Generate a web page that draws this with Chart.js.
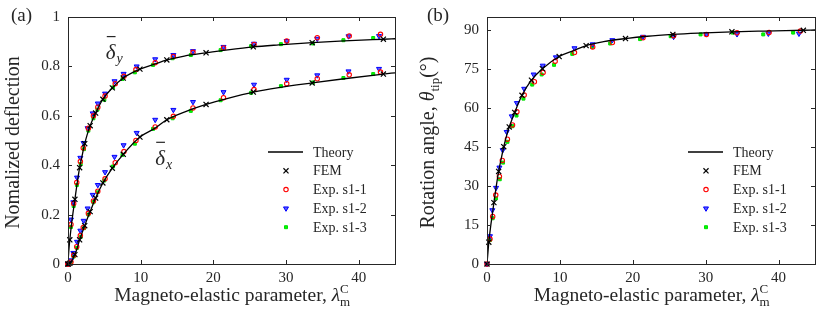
<!DOCTYPE html>
<html>
<head>
<meta charset="utf-8">
<script src="https://cdn.jsdelivr.net/npm/chart.js@4.4.0/dist/chart.umd.min.js"></script>
<style>
  html, body { margin: 0; padding: 0; background: #fff; }
  #wrap { position: relative; width: 831px; height: 314px; }
  .box { position: absolute; top: 0; height: 314px; }
  #boxA { left: 0; width: 415px; }
  #boxB { left: 415px; width: 416px; }
</style>
</head>
<body>
<div id="wrap">
  <div class="box" id="boxA"><canvas id="chartA"></canvas></div>
  <div class="box" id="boxB"><canvas id="chartB"></canvas></div>
</div>
<script>
// TICKS
const xTicks = [0, 10, 20, 30, 40];
const defTicks = [0, 0.2, 0.4, 0.6, 0.8, 1];
const angTicks = [0, 15, 30, 45, 60, 75, 90];

// THEORY
const theoryLam = [0, 0.05, 0.1, 0.25, 0.5, 0.7, 0.95, 1.25, 1.6, 1.95, 2.3, 2.65, 3.05, 3.8, 4.8, 6.1, 7.6, 9.9, 12, 13.6, 16, 19, 22, 25.5, 29, 33.6, 38, 43.4, 45];
const theoryDy = [0, 0.028, 0.05, 0.098, 0.165, 0.21, 0.262, 0.325, 0.39, 0.44, 0.487, 0.525, 0.56, 0.611, 0.667, 0.713, 0.753, 0.789, 0.81, 0.826, 0.842, 0.855, 0.867, 0.879, 0.887, 0.896, 0.903, 0.910, 0.912];
const theoryDx = [0, 0.0005, 0.001, 0.003, 0.012, 0.022, 0.038, 0.063, 0.098, 0.127, 0.155, 0.183, 0.212, 0.267, 0.328, 0.388, 0.444, 0.514, 0.55, 0.584, 0.615, 0.646, 0.671, 0.696, 0.714, 0.733, 0.750, 0.769, 0.774];
const theoryAng = [0, 1.8, 3.5, 8.4, 14.5, 18.5, 23.6, 29.5, 35.6, 40.5, 45.1, 49, 52.7, 58.3, 64.9, 70.7, 75.1, 79.8, 82.2, 84.0, 85.5, 86.7, 87.6, 88.3, 88.8, 89.3, 89.6, 89.9, 90.0];

// FEM
const femLam = [0, 0.25, 0.95, 1.6, 2.3, 3.05, 3.8, 4.8, 6.1, 7.6, 9.9, 13.6, 19, 25.5, 33.6, 43.4];
const femDy = [0, 0.098, 0.262, 0.39, 0.487, 0.56, 0.611, 0.667, 0.713, 0.753, 0.789, 0.826, 0.855, 0.879, 0.896, 0.910];
const femDx = [0, 0.003, 0.038, 0.098, 0.155, 0.212, 0.267, 0.328, 0.388, 0.444, 0.514, 0.584, 0.646, 0.696, 0.733, 0.769];
const femAng = [0, 8.4, 23.6, 35.6, 45.1, 52.7, 58.3, 64.9, 70.7, 75.1, 79.8, 84.0, 86.7, 88.3, 89.3, 89.9];

// EXPERIMENTS
const exp1Lam = [0, 0.41, 0.78, 1.2, 1.7, 2.1, 2.8, 3.5, 4.1, 5.1, 6.5, 7.7, 9.35, 12.0, 14.5, 17.2, 21.4, 25.6, 30.1, 34.3, 38.7, 43.0];
const exp1Dy = [0, 0.16, 0.245, 0.33, 0.415, 0.47, 0.55, 0.60, 0.635, 0.68, 0.73, 0.76, 0.787, 0.815, 0.84, 0.857, 0.875, 0.889, 0.903, 0.916, 0.923, 0.93];
const exp1Dx = [0, 0.008, 0.035, 0.07, 0.115, 0.148, 0.205, 0.255, 0.295, 0.345, 0.41, 0.455, 0.5, 0.555, 0.598, 0.632, 0.673, 0.706, 0.73, 0.75, 0.766, 0.777];
const exp1Ang = [0, 9.6, 18.3, 26.5, 33.7, 39.8, 48.0, 53.5, 58.6, 65.0, 70.1, 73.7, 78.0, 81.3, 83.5, 85.2, 87.0, 87.8, 88.3, 88.9, 89.0, 89.6];

const exp2Lam = [0, 0.41, 0.73, 1.24, 1.7, 2.15, 2.7, 3.4, 4.1, 5.1, 6.4, 7.65, 9.45, 12.0, 14.5, 17.2, 21.4, 25.6, 30.1, 34.3, 38.6, 42.8];
const exp2Dy = [0, 0.18, 0.25, 0.35, 0.43, 0.49, 0.55, 0.61, 0.65, 0.69, 0.74, 0.77, 0.80, 0.829, 0.846, 0.862, 0.879, 0.892, 0.903, 0.912, 0.922, 0.923];
const exp2Dx = [0, 0.015, 0.045, 0.09, 0.135, 0.175, 0.225, 0.28, 0.32, 0.372, 0.434, 0.481, 0.531, 0.584, 0.624, 0.656, 0.696, 0.726, 0.746, 0.764, 0.78, 0.79];
const exp2Ang = [0, 10.7, 20.7, 29.3, 37.1, 43.8, 50.8, 56.8, 61.9, 67.4, 72.9, 76.3, 79.5, 83.0, 84.5, 86.1, 87.4, 87.4, 88.4, 88.4, 88.6, 88.6];

const exp3Lam = [0, 0.41, 0.78, 1.22, 1.75, 2.2, 2.8, 3.5, 4.05, 5.0, 6.2, 7.5, 9.2, 11.7, 14.4, 16.9, 21.0, 25.2, 29.3, 33.7, 37.9, 42.0];
const exp3Dy = [0, 0.15, 0.235, 0.32, 0.405, 0.465, 0.54, 0.59, 0.625, 0.665, 0.715, 0.749, 0.776, 0.806, 0.833, 0.846, 0.866, 0.882, 0.89, 0.893, 0.906, 0.915];
const exp3Dx = [0, 0.006, 0.03, 0.065, 0.11, 0.145, 0.2, 0.25, 0.29, 0.338, 0.395, 0.442, 0.487, 0.547, 0.59, 0.62, 0.663, 0.693, 0.72, 0.735, 0.753, 0.769];
const exp3Ang = [0, 9.2, 17.6, 25.2, 32.6, 39.0, 47.0, 53.0, 57.1, 63.6, 69.0, 72.9, 76.6, 80.8, 83.5, 84.8, 86.5, 87.6, 88.3, 89.0, 88.3, 89.0];

// STYLES
const SERIF = "'Liberation Serif', 'Times New Roman', serif";
const INK = "#262626";

const styles = {
  theory: { label: "Theory", showLine: true, borderColor: "#000", borderWidth: 1.3, pointRadius: 0, cubicInterpolationMode: "monotone" },
  fem: { label: "FEM", pointStyle: "crossRot", pointRadius: 3.6, borderColor: "#000", backgroundColor: "#000", borderWidth: 1.2, clip: false },
  exp1: { label: "Exp. s1-1", pointStyle: "circle", pointRadius: 2.2, borderColor: "#ff0000", backgroundColor: "rgba(0,0,0,0)", borderWidth: 1.1, clip: false },
  exp2: { label: "Exp. s1-2", pointStyle: "triangle", pointRotation: 180, pointRadius: 2.9, borderColor: "#0000ff", backgroundColor: "#5a5aff", borderWidth: 1, clip: false },
  exp3: { label: "Exp. s1-3", pointStyle: "rect", pointRadius: 2.1, borderColor: "#00dd00", backgroundColor: "#00ff00", borderWidth: 1, clip: false },
};
const legendOrder = ["theory", "fem", "exp1", "exp2", "exp3"];

function pts(xs, ys) {
  return xs.map((x, i) => ({ x: x, y: ys[i] }));
}
function ds(kind, xs, ys) {
  return Object.assign({ data: pts(xs, ys) }, styles[kind]);
}

// rich text: parts {t, f, dy, adv}
function drawRich(ctx, parts, x, y, rot) {
  ctx.save();
  ctx.translate(x, y);
  ctx.rotate(rot || 0);
  let total = 0;
  parts.forEach(p => {
    ctx.font = p.f;
    if (p.adv !== false) total += ctx.measureText(p.t).width;
  });
  let cx = -total / 2;
  ctx.textAlign = "left";
  ctx.textBaseline = "alphabetic";
  ctx.fillStyle = INK;
  parts.forEach(p => {
    ctx.font = p.f;
    ctx.fillText(p.t, cx, p.dy || 0);
    if (p.adv !== false) cx += ctx.measureText(p.t).width;
  });
  ctx.restore();
}

const xTitle = [
  { t: "Magneto-elastic parameter, ", f: "19.5px " + SERIF },
  { t: "λ", f: "italic 19.5px " + SERIF },
  { t: "m", f: "13px " + SERIF, dy: 5, adv: false },
  { t: "C", f: "13px " + SERIF, dy: -8 },
];

function panelPlugin(cfg) {
  return {
    id: "panel",
    afterDraw(chart) {
      const ctx = chart.ctx;
      const a = chart.chartArea;
      const xs = chart.scales.x, ys = chart.scales.y;

      // frame with inward ticks on all four sides
      ctx.save();
      ctx.strokeStyle = INK;
      ctx.lineWidth = 1;
      ctx.strokeRect(Math.round(a.left) + 0.5, Math.round(a.top) + 0.5, Math.round(a.right - a.left), Math.round(a.bottom - a.top));
      ctx.beginPath();
      xs.ticks.forEach(t => {
        const px = Math.round(xs.getPixelForValue(t.value)) + 0.5;
        ctx.moveTo(px, a.bottom); ctx.lineTo(px, a.bottom - 4);
        ctx.moveTo(px, a.top); ctx.lineTo(px, a.top + 4);
      });
      ys.ticks.forEach(t => {
        const py = Math.round(ys.getPixelForValue(t.value)) + 0.5;
        ctx.moveTo(a.left, py); ctx.lineTo(a.left + 4, py);
        ctx.moveTo(a.right, py); ctx.lineTo(a.right - 4, py);
      });
      ctx.stroke();
      ctx.restore();

      // panel tag
      ctx.save();
      ctx.fillStyle = INK;
      ctx.font = "19px " + SERIF;
      ctx.textAlign = "left";
      ctx.textBaseline = "alphabetic";
      ctx.fillText(cfg.tag, cfg.tagX, 21);
      ctx.restore();

      // axis titles
      drawRich(ctx, xTitle, (a.left + a.right) / 2, 301, 0);
      drawRich(ctx, cfg.yTitle, cfg.yTitleX, (a.top + a.bottom) / 2 + 2, -Math.PI / 2);

      // curve labels
      (cfg.notes || []).forEach(n => {
        const px = xs.getPixelForValue(n.x), py = ys.getPixelForValue(n.y);
        ctx.save();
        ctx.fillStyle = INK;
        ctx.font = "italic 21px " + SERIF;
        ctx.textAlign = "left";
        ctx.textBaseline = "alphabetic";
        const w = ctx.measureText("δ").width;
        ctx.fillText("δ", px, py);
        ctx.fillRect(px + 1, py - 23, w - 1, 1.2);
        ctx.font = "italic 14px " + SERIF;
        ctx.fillText(n.sub, px + w + 1, py + 4);
        ctx.restore();
      });

      // legend
      ctx.save();
      const lx = a.right;
      legendOrder.forEach((k, i) => {
        const s = styles[k];
        const y = 152 + i * 18.8;
        if (k === "theory") {
          ctx.strokeStyle = s.borderColor;
          ctx.lineWidth = s.borderWidth;
          ctx.beginPath();
          ctx.moveTo(lx - 127, y); ctx.lineTo(lx - 92, y);
          ctx.stroke();
        } else {
          ctx.strokeStyle = s.borderColor;
          ctx.fillStyle = s.backgroundColor;
          ctx.lineWidth = s.borderWidth;
          Chart.helpers.drawPoint(ctx, { pointStyle: s.pointStyle, radius: s.pointRadius, rotation: s.pointRotation || 0, borderWidth: s.borderWidth }, lx - 109, y);
        }
        ctx.fillStyle = INK;
        ctx.font = "14px " + SERIF;
        ctx.textAlign = "left";
        ctx.textBaseline = "middle";
        ctx.fillText(s.label, lx - 82, y + 1);
      });
      ctx.restore();
    },
  };
}

function makeOptions(yMin, yMax, yTickVals, pad, yWidth, fmt) {
  return {
    responsive: true,
    maintainAspectRatio: false,
    animation: false,
    events: [],
    layout: { padding: pad },
    plugins: { legend: { display: false }, tooltip: { enabled: false } },
    scales: {
      x: {
        type: "linear",
        min: 0,
        max: 45,
        afterBuildTicks: s => { s.ticks = xTicks.map(v => ({ value: v })); },
        afterFit: s => { s.height = 50; },
        grid: { display: false, drawTicks: false },
        border: { display: false },
        ticks: { padding: 5, color: INK, font: { family: SERIF, size: 15 }, maxRotation: 0 },
      },
      y: {
        type: "linear",
        min: yMin,
        max: yMax,
        afterBuildTicks: s => { s.ticks = yTickVals.map(v => ({ value: v })); },
        afterFit: s => { s.width = yWidth; },
        grid: { display: false, drawTicks: false },
        border: { display: false },
        ticks: { padding: 8, color: INK, font: { family: SERIF, size: 15 }, callback: fmt },
      },
    },
  };
}

// PANEL (a)
new Chart(document.getElementById("chartA").getContext("2d"), {
  type: "scatter",
  data: {
    datasets: [
      ds("theory", theoryLam, theoryDy),
      ds("theory", theoryLam, theoryDx),
      ds("fem", femLam, femDy),
      ds("fem", femLam, femDx),
      ds("exp1", exp1Lam, exp1Dy),
      ds("exp1", exp1Lam, exp1Dx),
      ds("exp2", exp2Lam, exp2Dy),
      ds("exp2", exp2Lam, exp2Dx),
      ds("exp3", exp3Lam, exp3Dy),
      ds("exp3", exp3Lam, exp3Dx),
    ],
  },
  options: makeOptions(0, 1, defTicks, { left: 0, right: 20, top: 13, bottom: 0 }, 68, v => String(v)),
  plugins: [panelPlugin({
    tag: "(a)",
    tagX: 11,
    yTitle: [{ t: "Nomalized deflection", f: "20px " + SERIF }],
    yTitleX: 19,
    notes: [{ x: 5.2, y: 0.83, sub: "y" }, { x: 12.0, y: 0.402, sub: "x" }],
  })],
});

// PANEL (b)
new Chart(document.getElementById("chartB").getContext("2d"), {
  type: "scatter",
  data: {
    datasets: [
      ds("theory", theoryLam, theoryAng),
      ds("fem", femLam, femAng),
      ds("exp1", exp1Lam, exp1Ang),
      ds("exp2", exp2Lam, exp2Ang),
      ds("exp3", exp3Lam, exp3Ang),
    ],
  },
  options: makeOptions(0, 95, angTicks, { left: 0, right: 16, top: 12, bottom: 0 }, 72, v => String(v)),
  plugins: [panelPlugin({
    tag: "(b)",
    tagX: 12,
    yTitle: [
      { t: "Rotation angle, ", f: "20px " + SERIF },
      { t: "θ", f: "italic 20px " + SERIF },
      { t: "tip", f: "13px " + SERIF, dy: 5 },
      { t: "(°)", f: "20px " + SERIF },
    ],
    yTitleX: 19,
    notes: [],
  })],
});
</script>
</body>
</html>
